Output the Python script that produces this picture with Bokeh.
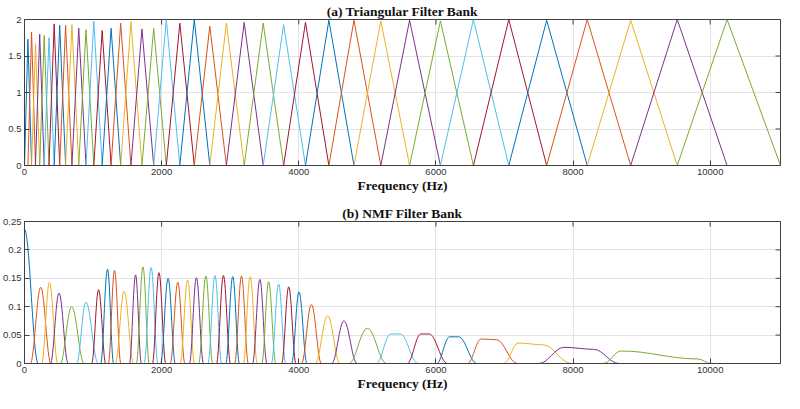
import math
from bokeh.plotting import figure
from bokeh.layouts import column
from bokeh.models import FixedTicker, ColumnDataSource, Range1d
from bokeh.embed import file_html
from bokeh.resources import INLINE

# ---------------- data ----------------
colors = ["#0072BD", "#D95319", "#EDB120", "#7E2F8E", "#77AC30", "#4DBEEE", "#A2142F"]
f_max = 11025

# (a) triangular filter bank: band edges (Hz) and peak heights
tri_edges = [0, 49.8, 103.2, 160.3, 221.5, 287.1, 357.4, 432.6, 513.2, 599.5,
             692.0, 791.1, 897.2, 1010.8, 1132.6, 1263.0, 1402.7, 1552.3, 1712.6, 1884.2,
             2068.1, 2265.1, 2476.1, 2702.1, 2944.2, 3203.5, 3481.3, 3778.8, 4097.5, 4438.9,
             4804.6, 5196.3, 5615.9, 6065.3, 6546.7, 7062.4, 7614.8, 8206.4, 8840.2, 9519.1,
             10246.3, 11025.0]
tri_heights = [1.73, 1.83, 1.67, 1.80, 1.78, 1.75, 1.94, 1.92, 1.92, 1.93,
               1.88, 1.86, 1.98, 1.85, 1.88, 1.95, 1.97, 1.87, 1.88, 2.00,
               1.95, 2.00, 1.91, 1.95, 1.96, 1.95, 1.93, 1.96, 1.99, 1.99,
               1.98, 1.99, 1.98, 2.00, 2.00, 1.99, 2.00, 1.99, 2.00, 2.00]

# (b) NMF filter bank: start, rise-top, top height, top-end, end height, end
nmf_start = [0, 85, 250, 378, 520, 760, 980, 1110, 1222, 1325,
             1530, 1630, 1745, 1865, 1985, 2125, 2270, 2405, 2540, 2675,
             2800, 2935, 3065, 3190, 3325, 3460, 3600, 3750, 3895, 4040,
             4240, 4480, 4730, 5130, 5580, 6010, 6460, 6990, 7500, 8440]
nmf_peak = [0, 237, 364, 503, 688, 895, 1080, 1211, 1313, 1453,
            1620, 1728, 1847, 1961, 2094, 2236, 2379, 2507, 2645, 2778,
            2901, 3037, 3165, 3291, 3433, 3561, 3706, 3853, 4003, 4184,
            4420, 4658, 5000, 5340, 5780, 6200, 6660, 7200, 7870, 8700]
nmf_height = [0.236, 0.134, 0.143, 0.124, 0.100, 0.108, 0.130, 0.166, 0.164, 0.127,
              0.156, 0.170, 0.169, 0.160, 0.150, 0.143, 0.147, 0.151, 0.154, 0.155,
              0.155, 0.153, 0.154, 0.153, 0.148, 0.144, 0.140, 0.135, 0.126, 0.104,
              0.084, 0.075, 0.062, 0.052, 0.052, 0.047, 0.043, 0.036, 0.0285, 0.022]
nmf_peak2 = [0, 237, 364, 503, 688, 895, 1080, 1211, 1313, 1453,
             1620, 1728, 1847, 1961, 2094, 2236, 2379, 2507, 2645, 2778,
             2901, 3037, 3165, 3291, 3433, 3561, 3706, 3853, 4003, 4184,
             4420, 4658, 5000, 5480, 5900, 6330, 6880, 7560, 8300, 9820]
nmf_height2 = [0.236, 0.134, 0.143, 0.124, 0.100, 0.108, 0.130, 0.166, 0.164, 0.127,
               0.156, 0.170, 0.169, 0.160, 0.150, 0.143, 0.147, 0.151, 0.154, 0.155,
               0.155, 0.153, 0.154, 0.153, 0.148, 0.144, 0.140, 0.135, 0.126, 0.104,
               0.084, 0.075, 0.062, 0.052, 0.052, 0.047, 0.042, 0.033, 0.025, 0.008]
nmf_end = [200, 385, 485, 637, 870, 1075, 1185, 1300, 1405, 1590,
           1705, 1820, 1945, 2060, 2200, 2340, 2480, 2610, 2745, 2875,
           3005, 3135, 3265, 3395, 3535, 3665, 3810, 3960, 4120, 4330,
           4600, 4850, 5280, 5740, 6170, 6600, 7190, 7980, 8670, 10010]

x_ticks = [0, 2000, 4000, 6000, 8000, 10000]
x_labels = ["0", "2000", "4000", "6000", "8000", "10000"]
ya_ticks = [0, 0.5, 1, 1.5, 2]
ya_labels = ["0", "0.5", "1", "1.5", "2"]
yb_ticks = [0, 0.05, 0.1, 0.15, 0.2, 0.25]
yb_labels = ["0", "0.05", "0.1", "0.15", "0.2", "0.25"]

titles = ["(a) Triangular Filter Bank", "(b) NMF Filter Bank"]
x_title = "Frequency (Hz)"

# ---------------- styling helpers ----------------
AX = "#404040"
GRID = "#e3e3e3"
SERIF = "Liberation Serif"
SANS = "Liberation Sans"


def make_fig(title, y_max, yticks, ylabels, height, mb_top, mb_bottom):
    p = figure(width=784, height=height, output_backend="svg", toolbar_location=None,
               x_range=Range1d(0, f_max), y_range=Range1d(0, y_max),
               min_border_left=24, min_border_right=4,
               min_border_top=mb_top, min_border_bottom=mb_bottom)
    p.title.text = title
    p.title.align = "center"
    p.title.text_font = SERIF
    p.title.text_font_style = "bold"
    p.title.text_font_size = "13.5px"
    p.title.text_color = "#111111"
    p.title.standoff = 2
    p.outline_line_color = AX
    p.outline_line_width = 1
    xt = FixedTicker(ticks=x_ticks, minor_ticks=[])
    yt = FixedTicker(ticks=yticks, minor_ticks=[])
    p.xgrid.ticker = xt
    p.ygrid.ticker = yt
    p.xgrid.grid_line_color = GRID
    p.ygrid.grid_line_color = GRID
    for ax, t, lab in ((p.xaxis[0], xt, x_labels), (p.yaxis[0], yt, ylabels)):
        ax.ticker = t
        ax.major_label_overrides = {tk: s for tk, s in zip(t.ticks, lab)}
        ax.major_label_text_font = SANS
        ax.major_label_text_font_size = "9.5px"
        ax.major_label_text_color = "#333333"
        ax.major_tick_in = 5
        ax.major_tick_out = 0
        ax.minor_tick_line_color = None
        ax.axis_line_color = AX
        ax.major_tick_line_color = AX
        ax.major_label_standoff = 3
    p.xaxis[0].axis_label = x_title
    p.xaxis[0].axis_label_text_font = SERIF
    p.xaxis[0].axis_label_text_font_style = "bold"
    p.xaxis[0].axis_label_text_font_size = "13.5px"
    p.xaxis[0].axis_label_text_color = "#111111"
    p.xaxis[0].axis_label_standoff = 0
    return p, xt, yt


def box_ticks(p, y_max, yticks):
    # inward tick marks on the top and right edges of the box
    p.scatter(x=x_ticks, y=[y_max] * len(x_ticks), marker="dash", angle=math.pi / 2,
              size=10, line_color=AX, line_width=1)
    p.scatter(x=[f_max] * len(yticks), y=yticks, marker="dash",
              size=10, line_color=AX, line_width=1)


# ---------------- (a) ----------------
pa, _, _ = make_fig(titles[0], 2, ya_ticks, ya_labels, 199, 12, 34)
xs, ys, cs = [], [], []
for i, h in enumerate(tri_heights):
    xs.append([0, tri_edges[i], tri_edges[i + 1], tri_edges[i + 2], f_max])
    ys.append([0, 0, h, 0, 0])
    cs.append(colors[i % 7])
pa.multi_line(xs=xs, ys=ys, line_color=cs, line_width=1)
box_ticks(pa, 2, ya_ticks)

# ---------------- (b) ----------------
pb, _, _ = make_fig(titles[1], 0.25, yb_ticks, yb_labels, 194, 22, 30)
seg = dict(x0=[], y0=[], x1=[], y1=[], color=[])
bz = dict(x0=[], y0=[], x1=[], y1=[], cx0=[], cy0=[], cx1=[], cy1=[], color=[])
K = 0.38
for i in range(len(nmf_peak)):
    c = colors[i % 7]
    if nmf_start[i] > 0:
        seg["x0"].append(0); seg["y0"].append(0)
        seg["x1"].append(nmf_start[i]); seg["y1"].append(0); seg["color"].append(c)
    seg["x0"].append(nmf_end[i]); seg["y0"].append(0)
    seg["x1"].append(f_max); seg["y1"].append(0); seg["color"].append(c)
    knots = [(nmf_start[i], 0), (nmf_peak[i], nmf_height[i]),
             (nmf_peak2[i], nmf_height2[i]), (nmf_end[i], 0)]
    for (xa, ya), (xb, yb) in zip(knots[:-1], knots[1:]):
        if xb == xa:
            continue
        d = xb - xa
        bz["x0"].append(xa); bz["y0"].append(ya)
        bz["x1"].append(xb); bz["y1"].append(yb)
        bz["cx0"].append(xa + K * d); bz["cy0"].append(ya)
        bz["cx1"].append(xb - K * d); bz["cy1"].append(yb)
        bz["color"].append(c)
pb.segment(x0="x0", y0="y0", x1="x1", y1="y1", line_color="color", line_width=1,
           source=ColumnDataSource(seg))
pb.bezier(x0="x0", y0="y0", x1="x1", y1="y1", cx0="cx0", cy0="cy0", cx1="cx1", cy1="cy1",
          line_color="color", line_width=1, source=ColumnDataSource(bz))
box_ticks(pb, 0.25, yb_ticks)

layout = column(pa, pb, spacing=0)
open("out.html", "w").write(file_html(layout, INLINE))
